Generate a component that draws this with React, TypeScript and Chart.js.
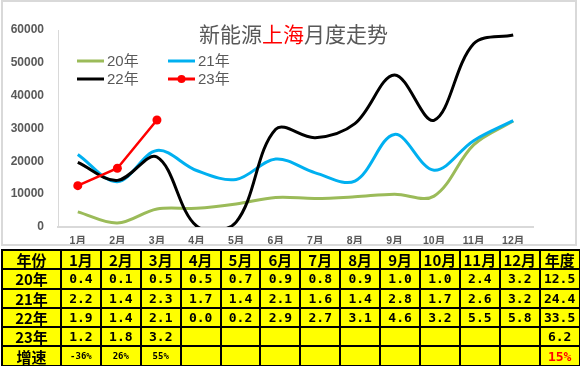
import React, { useEffect, useRef } from "react";
import { Chart, registerables } from "chart.js";

Chart.register(...registerables);

const months = ["1月", "2月", "3月", "4月", "5月", "6月", "7月", "8月", "9月", "10月", "11月", "12月"];
const yTicks = [0, 10000, 20000, 30000, 40000, 50000, 60000];

const s20 = [4600, 1200, 5500, 5700, 7000, 9000, 8700, 9200, 10000, 9400, 25000, 32300];
const s21 = [22100, 13800, 23300, 17200, 14500, 20700, 16500, 14000, 28200, 17300, 26300, 32400];
const s22 = [19700, 14200, 21300, 300, 1500, 29800, 27200, 31500, 46300, 32500, 55800, 58500];
const s23 = [12600, 17900, 32600];

const seriesNames = ["20年", "21年", "22年", "23年"];
const seriesColors = ["#9bbb59", "#00b0f0", "#000000", "#ff0000"];

const t20 = [0.4, 0.1, 0.5, 0.5, 0.7, 0.9, 0.8, 0.9, 1.0, 1.0, 2.4, 3.2];
const t21 = [2.2, 1.4, 2.3, 1.7, 1.4, 2.1, 1.6, 1.4, 2.8, 1.7, 2.6, 3.2];
const t22 = [1.9, 1.4, 2.1, 0.0, 0.2, 2.9, 2.7, 3.1, 4.6, 3.2, 5.5, 5.8];
const t23 = [1.2, 1.8, 3.2];
const tTotals = [12.5, 24.4, 33.5, 6.2];
const growth = ["-36%", "26%", "55%"];
const growthTotal = "15%";

const titleParts = [
  { text: "新能源", color: "#595959" },
  { text: "上海", color: "#ff0000" },
  { text: "月度走势", color: "#595959" },
];

const overlayPlugin = {
  id: "overlay",
  afterDraw(chart: any) {
    const ctx = chart.ctx as CanvasRenderingContext2D;
    ctx.save();
    ctx.font = '21px "Noto Sans CJK SC"';
    ctx.textBaseline = "middle";
    ctx.textAlign = "left";
    const total = titleParts.reduce((a, p) => a + ctx.measureText(p.text).width, 0);
    let x = 290.5 - total / 2;
    for (const p of titleParts) {
      ctx.fillStyle = p.color;
      ctx.fillText(p.text, x, 32);
      x += ctx.measureText(p.text).width;
    }
    const pos = [
      { lx: 74, y: 59 },
      { lx: 165, y: 59 },
      { lx: 74, y: 77 },
      { lx: 165, y: 77 },
    ];
    ctx.font = '15px "Liberation Sans", "Noto Sans CJK SC"';
    for (let i = 0; i < 4; i++) {
      const { lx, y } = pos[i];
      ctx.strokeStyle = seriesColors[i];
      ctx.lineWidth = 3;
      ctx.beginPath();
      ctx.moveTo(lx, y);
      ctx.lineTo(lx + 27, y);
      ctx.stroke();
      if (i === 3) {
        ctx.fillStyle = seriesColors[i];
        ctx.beginPath();
        ctx.arc(lx + 13.5, y, 4, 0, Math.PI * 2);
        ctx.fill();
      }
      ctx.fillStyle = "#595959";
      ctx.fillText(seriesNames[i], lx + 30, y + 1);
    }
    ctx.restore();
  },
};

function ChartCanvas() {
  const ref = useRef<HTMLCanvasElement>(null);
  useEffect(() => {
    if (!ref.current) return;
    const mk = (i: number, data: number[], extra: any = {}) => ({
      label: seriesNames[i],
      data,
      borderColor: seriesColors[i],
      backgroundColor: seriesColors[i],
      borderWidth: 3,
      tension: 0.35,
      pointRadius: 0,
      fill: false,
      ...extra,
    });
    const chart = new Chart(ref.current, {
      type: "line",
      data: {
        labels: months,
        datasets: [
          mk(3, s23, { tension: 0, borderWidth: 2.5, pointRadius: 4.5, pointBackgroundColor: "#ff0000", pointBorderWidth: 0 }),
          mk(2, s22),
          mk(1, s21),
          mk(0, s20),
        ],
      },
      options: {
        responsive: false,
        devicePixelRatio: 1,
        animation: false,
        events: [],
        layout: { autoPadding: false, padding: { left: 0, right: 42, top: 28, bottom: 0 } },
        elements: { line: { capBezierPoints: false } },
        plugins: { legend: { display: false }, title: { display: false }, tooltip: { enabled: false } },
        scales: {
          x: {
            offset: true,
            grid: { display: false, drawTicks: false },
            border: { display: true, color: "#d9d9d9", width: 2 },
            ticks: {
              color: "#595959",
              font: { family: '"Liberation Sans", "Noto Sans CJK SC"', size: 10.5, weight: "bold" },
              padding: 8,
              maxRotation: 0,
              autoSkip: false,
            },
            afterFit: (s: any) => {
              s.height = 21;
              s.paddingLeft = 0;
              s.paddingRight = 0;
            },
          },
          y: {
            min: 0,
            max: 60000,
            afterBuildTicks: (s: any) => {
              s.ticks = yTicks.map((v) => ({ value: v }));
            },
            grid: { display: false, drawTicks: false },
            border: { display: true, color: "#d9d9d9", width: 1 },
            ticks: {
              color: "#595959",
              font: { family: '"Liberation Sans"', size: 12, weight: "bold" },
              padding: 14,
              callback: (v: any) => String(v),
            },
            afterFit: (s: any) => {
              s.width = 55;
              s.paddingTop = 0;
              s.paddingBottom = 0;
            },
          },
        },
      },
      plugins: [overlayPlugin],
    } as any);
    return () => chart.destroy();
  }, []);
  return (
    <canvas
      ref={ref}
      width={572}
      height={246}
      style={{ position: "absolute", left: 3, top: 2, display: "block", width: 572, height: 246 }}
    />
  );
}

const cell: React.CSSProperties = {
  border: "2px solid #000",
  background: "#ffff00",
  padding: 0,
  textAlign: "center",
  verticalAlign: "middle",
  whiteSpace: "nowrap",
  overflow: "hidden",
};
const cjk: React.CSSProperties = {
  ...cell,
  fontFamily: '"Noto Sans CJK SC"',
  fontWeight: "bold",
  fontSize: 15,
  lineHeight: "15px",
};
const num: React.CSSProperties = {
  ...cell,
  fontFamily: '"DejaVu Sans Mono", "Liberation Mono", monospace',
  fontWeight: "bold",
  fontSize: 13,
  lineHeight: "15px",
};

function DataTable() {
  const rows = [
    { name: "20年", vals: t20, total: tTotals[0] },
    { name: "21年", vals: t21, total: tTotals[1] },
    { name: "22年", vals: t22, total: tTotals[2] },
    { name: "23年", vals: t23, total: tTotals[3] },
  ];
  const rowH = 19.3;
  return (
    <table
      style={{
        position: "absolute",
        left: 1,
        top: 249,
        width: 578,
        borderCollapse: "collapse",
        tableLayout: "fixed",
      }}
    >
      <colgroup>
        <col style={{ width: 59 }} />
        {months.map((m) => (
          <col key={m} style={{ width: 39.9 }} />
        ))}
        <col style={{ width: 39.9 }} />
      </colgroup>
      <tbody>
        <tr style={{ height: rowH }}>
          <td style={cjk}>年份</td>
          {months.map((m) => (
            <td key={m} style={cjk}>
              {m}
            </td>
          ))}
          <td style={cjk}>年度</td>
        </tr>
        {rows.map((r) => (
          <tr key={r.name} style={{ height: rowH }}>
            <td style={cjk}>{r.name}</td>
            {months.map((m, i) => (
              <td key={m} style={num}>
                {i < r.vals.length ? r.vals[i].toFixed(1) : ""}
              </td>
            ))}
            <td style={num}>{r.total.toFixed(1)}</td>
          </tr>
        ))}
        <tr style={{ height: rowH }}>
          <td style={cjk}>增速</td>
          {months.map((m, i) => (
            <td key={m} style={{ ...num, fontSize: 9 }}>
              {i < growth.length ? growth[i] : ""}
            </td>
          ))}
          <td style={{ ...num, color: "#ff0000", fontSize: 13 }}>{growthTotal}</td>
        </tr>
      </tbody>
    </table>
  );
}

export default function App() {
  return (
    <div style={{ position: "absolute", left: 0, top: 0, width: 580, height: 366, background: "#fff", overflow: "hidden" }}>
      <ChartCanvas />
      <div
        style={{
          position: "absolute",
          left: 1,
          top: 0,
          width: 576,
          height: 246,
          border: "2px solid #d9d9d9",
          boxSizing: "border-box",
          pointerEvents: "none",
        }}
      />
      <DataTable />
    </div>
  );
}
